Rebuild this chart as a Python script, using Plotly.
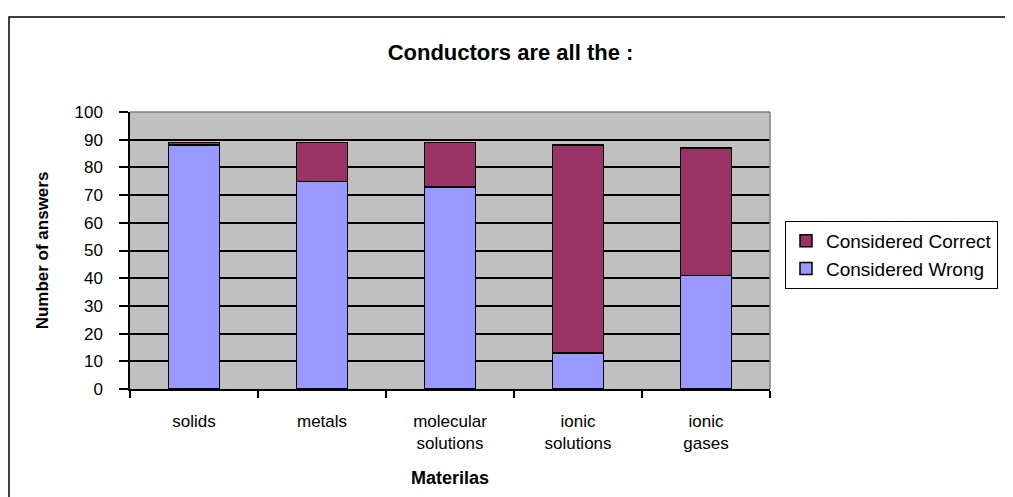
import plotly.graph_objects as go

categories = ["solids", "metals", "molecular<br>solutions", "ionic<br>solutions", "ionic<br>gases"]
considered_wrong = [88, 75, 73, 13, 41]
considered_correct = [1, 14, 16, 75, 46]
y_ticks = list(range(0, 101, 10))

# page body has an 8px margin, so the figure is sized to fit the window
W, H = 1005, 489
L, T = 122, 104
PW, PH = 640, 277
R = W - L - PW
B = H - T - PH

fig = go.Figure()
fig.add_trace(go.Bar(x=categories, y=considered_wrong, name="Considered Wrong",
                     marker=dict(color="#9999FF", line=dict(color="#000000", width=1.5))))
fig.add_trace(go.Bar(x=categories, y=considered_correct, name="Considered Correct",
                     marker=dict(color="#993366", line=dict(color="#000000", width=1.5))))

font = "Liberation Sans, Arial, sans-serif"

fig.update_layout(
    width=W, height=H,
    margin=dict(l=L, r=R, t=T, b=B, autoexpand=False),
    barmode="stack", bargap=0.6,
    paper_bgcolor="white", plot_bgcolor="#C0C0C0",
    font=dict(family=font, size=17, color="#000000"),
    title=dict(text="<b>Conductors are all the :</b>", x=0.5, xanchor="center",
               y=1 - 44 / H, yanchor="middle", font=dict(size=22, family=font)),
    legend=dict(x=(777 - L) / PW, y=(T + PH - 213) / PH, xanchor="left", yanchor="top",
                traceorder="reversed", bgcolor="white", bordercolor="#000000", borderwidth=1,
                font=dict(size=19, family=font), itemwidth=30),
    showlegend=True,
    xaxis=dict(type="category", showline=True, linecolor="#000000", linewidth=1.5,
               ticks="outside", ticklen=7, tickcolor="#000000", tickwidth=1.5,
               tickson="boundaries", showgrid=False, zeroline=False,
               tickfont=dict(size=17), automargin=False, ticklabelstandoff=16,
               title=dict(text="<b>Materilas</b>", font=dict(size=18), standoff=19)),
    yaxis=dict(range=[0, 100], tickvals=y_ticks, showline=True, linecolor="#000000", linewidth=1.5,
               ticks="outside", ticklen=9, tickcolor="#000000", tickwidth=1.5,
               showgrid=True, gridcolor="#000000", gridwidth=1.5, zeroline=False,
               tickfont=dict(size=17), automargin=False, ticklabelstandoff=13,
               title=dict(text="<b>Number of answers</b>", font=dict(size=17), standoff=22)),
    shapes=[
        dict(type="line", xref="paper", yref="paper", x0=0, x1=1, y0=1, y1=1,
             line=dict(color="#808080", width=1.5), layer="above"),
        dict(type="line", xref="paper", yref="paper", x0=1, x1=1, y0=0, y1=1,
             line=dict(color="#808080", width=1.5), layer="above"),
        dict(type="rect", xref="paper", yref="paper",
             x0=(1 - L) / PW, x1=(W + 10 - L) / PW,
             y0=(T + PH - (H + 10)) / PH, y1=(T + PH - 9) / PH,
             line=dict(color="#000000", width=1.5), fillcolor="rgba(0,0,0,0)", layer="above"),
    ],
)

fig.write_html("out.html")
